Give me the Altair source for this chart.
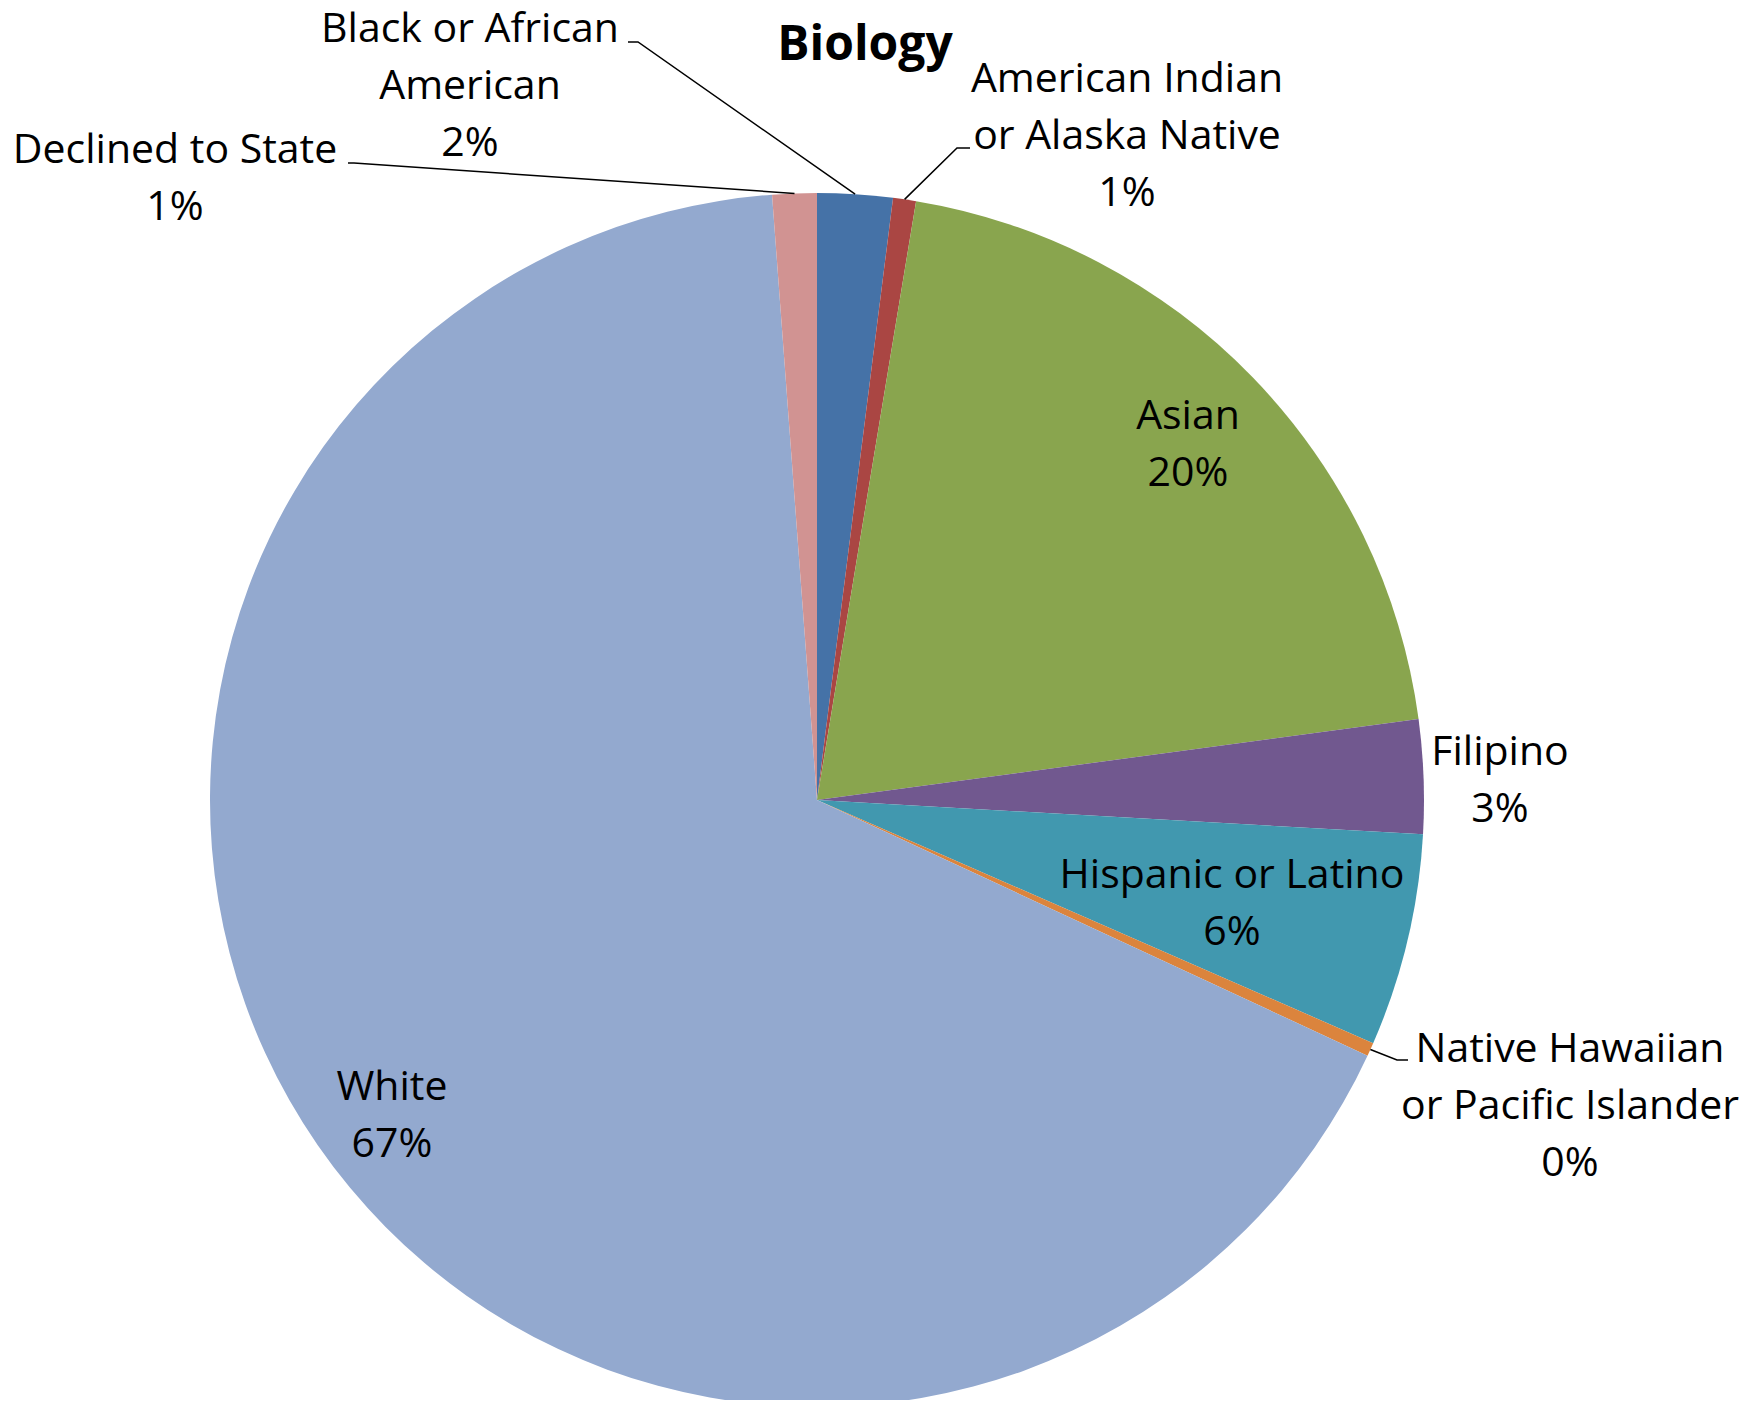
import math
import altair as alt
import pandas as pd

# ---------------- data ----------------
categories = [
    "Black or African American",
    "American Indian or Alaska Native",
    "Asian",
    "Filipino",
    "Hispanic or Latino",
    "Native Hawaiian or Pacific Islander",
    "White",
    "Declined to State",
]
label_names = [
    "Black or African\nAmerican",
    "American Indian\nor Alaska Native",
    "Asian",
    "Filipino",
    "Hispanic or Latino",
    "Native Hawaiian\nor Pacific Islander",
    "White",
    "Declined to State",
]
shares = [2.0, 0.61, 20.26, 3.03, 5.66, 0.36, 66.9, 1.18]
colors = ["#4572A7", "#AA4643", "#89A54E", "#71588F", "#4198AF", "#DB843D", "#93A9CF", "#D19392"]
title_text = "Biology"

# ---------------- layout ----------------
W, H = 1732, 1392
CX, CY, R = 809, 792, 607
FONT = "Open Sans"
FS = 41
LH = 57
# label anchor (centre x, first baseline y) per category
label_x = [462, 1119, 1180, 1492, 1224, 1562, 384, 167]
label_y = [34, 84, 421, 757, 880, 1054, 1092, 155]
# leader line start points (text side): list of (x, y) points, or None
leader_text_side = [
    [(620, 34), (630, 34)],
    [(962, 140), (949, 140)],
    None,
    None,
    None,
    [(1400, 1052), (1389, 1052)],
    None,
    [(340, 155), (346, 155)],
]

total = sum(shares)
pie_df = pd.DataFrame({
    "category": categories,
    "share": shares,
    "order": list(range(len(categories))),
})

label_text = [f"{n}\n{round(s / total * 100):.0f}%" for n, s in zip(label_names, shares)]
lab_df = pd.DataFrame({"category": categories, "text": label_text, "lx": label_x, "ly": label_y})

# leader lines: end at the mid-angle of each slice on the pie edge
rows = []
cum = 0.0
for i, (c, s) in enumerate(zip(categories, shares)):
    mid = (cum + s / 2) / total * 2 * math.pi
    cum += s
    pts = leader_text_side[i]
    if pts is None:
        continue
    ex = CX + R * math.sin(mid)
    ey = CY - R * math.cos(mid)
    allpts = list(pts) + [(ex, ey)]
    for k, (px, py) in enumerate(allpts):
        rows.append({"category": c, "k": k, "px": px, "py": py})
lead_df = pd.DataFrame(rows)

arcs = alt.Chart(pie_df).mark_arc(outerRadius=R).encode(
    theta=alt.Theta("share:Q", stack=True),
    color=alt.Color("category:N", scale=alt.Scale(domain=categories, range=colors), legend=None),
    order=alt.Order("order:Q"),
    x=alt.value(CX),
    y=alt.value(CY),
)

leaders = alt.Chart(lead_df).mark_line(color="#000000", strokeWidth=1.5).encode(
    x=alt.X("px:Q", scale=None, axis=None),
    y=alt.Y("py:Q", scale=None, axis=None),
    detail="category:N",
    order="k:Q",
)

labels = alt.Chart(lab_df).mark_text(
    font=FONT, fontSize=FS, lineBreak="\n", lineHeight=LH,
    align="center", baseline="alphabetic", color="#000000",
).encode(
    x=alt.X("lx:Q", scale=None, axis=None),
    y=alt.Y("ly:Q", scale=None, axis=None),
    text="text:N",
)

title = alt.Chart(pd.DataFrame({"t": [title_text]})).mark_text(
    font=FONT, fontSize=48, fontWeight="bold", align="center", baseline="alphabetic", color="#000000",
).encode(
    x=alt.value(857),
    y=alt.value(52),
    text="t:N",
)

chart = alt.layer(arcs, leaders, labels, title).properties(
    width=W, height=H, padding=0, autosize="none",
).configure_view(stroke=None)

chart.save("out.html", embed_options={"renderer": "svg", "actions": False})
